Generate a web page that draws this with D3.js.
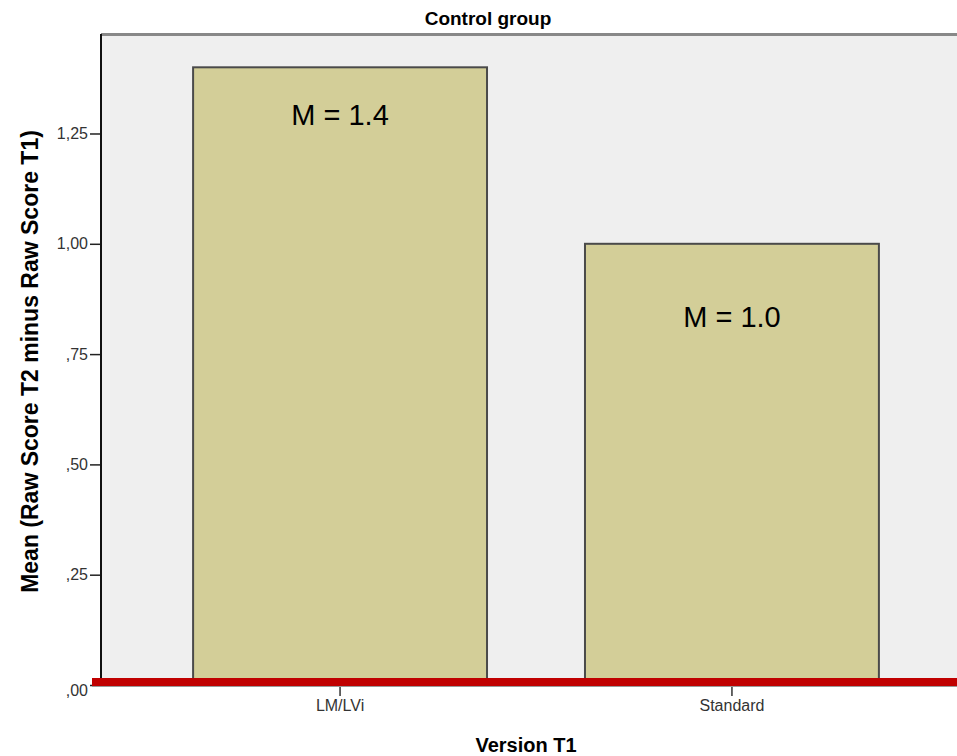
<!DOCTYPE html>
<html>
<head>
<meta charset="utf-8">
<script src="https://cdn.jsdelivr.net/npm/d3@7"></script>
<style>
  html, body { margin: 0; padding: 0; background: #ffffff; }
  svg { display: block; }
</style>
</head>
<body>
<svg id="chart" width="957" height="756"></svg>
<script>
// ---- data ----
const categories = ["LM/LVi", "Standard"];
const means = [1.4, 1.0];
const meanLabels = ["M = 1.4", "M = 1.0"];
const yTicks = [0, 0.25, 0.5, 0.75, 1.0, 1.25];
const yTickLabels = [",00", ",25", ",50", ",75", "1,00", "1,25"];
const chartTitle = "Control group";
const xTitle = "Version T1";
const yTitle = "Mean (Raw Score T2 minus Raw Score T1)";

// ---- layout ----
const W = 957, H = 756;
const plot = { left: 101, top: 34, right: 971, bottom: 685 };
const labelOffsets = [58, 83]; // baseline distance below bar top

const svg = d3.select("#chart");
const font = "'Liberation Sans', Arial, sans-serif";

const x = d3.scaleBand()
  .domain(categories)
  .range([plot.left, plot.right])
  .paddingInner(0.25)
  .paddingOuter(0.235);

const y = d3.scaleLinear()
  .domain([0, 1.4755])
  .range([plot.bottom, plot.top]);

// plot background
svg.append("rect")
  .attr("x", plot.left).attr("y", plot.top)
  .attr("width", plot.right - plot.left)
  .attr("height", plot.bottom - plot.top)
  .attr("fill", "#efefef");

// top border
svg.append("line")
  .attr("x1", plot.left).attr("x2", W)
  .attr("y1", plot.top + 0.5).attr("y2", plot.top + 0.5)
  .attr("stroke", "#888").attr("stroke-width", 3);

// bars
svg.selectAll("rect.bar")
  .data(categories)
  .join("rect")
  .attr("class", "bar")
  .attr("x", d => x(d))
  .attr("y", (d, i) => y(means[i]))
  .attr("width", x.bandwidth())
  .attr("height", (d, i) => y(0) - y(means[i]))
  .attr("fill", "#d3ce98")
  .attr("stroke", "#4a4a4a")
  .attr("stroke-width", 2);

// mean labels
svg.selectAll("text.mlabel")
  .data(categories)
  .join("text")
  .attr("class", "mlabel")
  .attr("x", d => x(d) + x.bandwidth() / 2)
  .attr("y", (d, i) => y(means[i]) + labelOffsets[i])
  .attr("text-anchor", "middle")
  .attr("font-family", font)
  .attr("font-size", 29)
  .attr("fill", "#000")
  .text((d, i) => meanLabels[i]);

// y axis
const yAxis = d3.axisLeft(y)
  .tickValues(yTicks)
  .tickFormat((d, i) => yTickLabels[i])
  .tickSize(11)
  .tickPadding(2);

const gy = svg.append("g")
  .attr("transform", `translate(${plot.left},0)`)
  .call(yAxis);
gy.select(".domain").remove();
gy.selectAll(".tick line").attr("stroke", "#222").attr("stroke-width", 1.5);
gy.selectAll(".tick text")
  .attr("font-family", font)
  .attr("font-size", 16)
  .attr("fill", "#333")
  .attr("transform", d => d === 0 ? "translate(0,5)" : null);
svg.append("line")
  .attr("x1", plot.left).attr("x2", plot.left)
  .attr("y1", plot.top).attr("y2", plot.bottom)
  .attr("stroke", "#111").attr("stroke-width", 2);

// x axis
const xAxis = d3.axisBottom(x)
  .tickSize(10)
  .tickPadding(4);
const gx = svg.append("g")
  .attr("transform", `translate(0,${plot.bottom + 1})`)
  .call(xAxis);
gx.select(".domain").remove();
gx.selectAll(".tick line").attr("stroke", "#333").attr("stroke-width", 1.5);
gx.selectAll(".tick text")
  .attr("font-family", font)
  .attr("font-size", 16)
  .attr("fill", "#333");

// red reference line at zero
svg.append("rect")
  .attr("x", 92).attr("y", y(0) - 7)
  .attr("width", W - 92).attr("height", 8)
  .attr("fill", "#c00000");
svg.append("line")
  .attr("x1", 92).attr("x2", W)
  .attr("y1", y(0) + 1.5).attr("y2", y(0) + 1.5)
  .attr("stroke", "#999").attr("stroke-width", 1);

// title
svg.append("text")
  .attr("x", 488).attr("y", 25)
  .attr("text-anchor", "middle")
  .attr("font-family", font)
  .attr("font-weight", "bold")
  .attr("font-size", 19)
  .attr("fill", "#000")
  .text(chartTitle);

// x title
svg.append("text")
  .attr("x", (plot.left + plot.right) / 2 - 10).attr("y", 752)
  .attr("text-anchor", "middle")
  .attr("font-family", font)
  .attr("font-weight", "bold")
  .attr("font-size", 20)
  .attr("fill", "#000")
  .text(xTitle);

// y title
svg.append("text")
  .attr("transform", `translate(38,${361.5}) rotate(-90)`)
  .attr("text-anchor", "middle")
  .attr("font-family", font)
  .attr("font-weight", "bold")
  .attr("font-size", 23)
  .attr("fill", "#000")
  .text(yTitle);
</script>
</body>
</html>
